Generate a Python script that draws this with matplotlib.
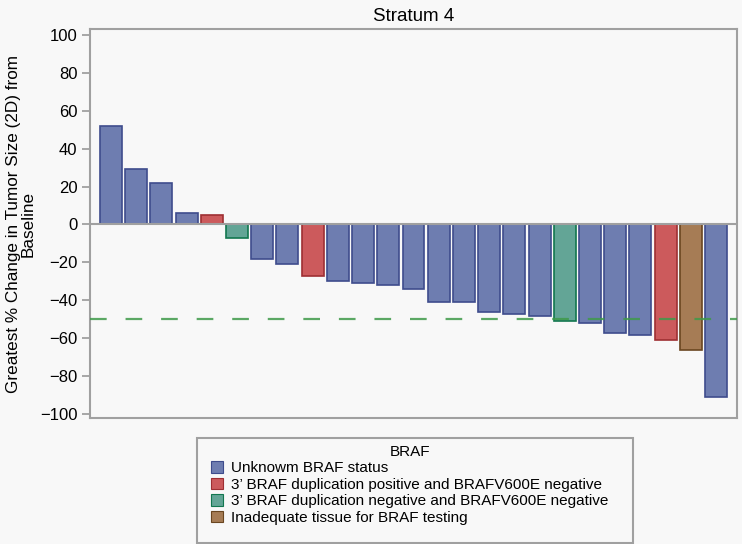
import matplotlib
matplotlib.use("Agg")
import matplotlib.pyplot as plt
from matplotlib.patches import Patch, Rectangle

plt.rcParams["font.family"] = ["Liberation Sans", "DejaVu Sans"]

# ---------- data ----------
pct_change = [52, 29, 22, 6, 5, -7, -18, -21, -27, -30, -31, -32, -34,
              -41, -41, -46, -47, -48, -51, -52, -57, -58, -61, -66, -91]
# 0 unknown, 1 dup positive, 2 dup negative, 3 inadequate tissue
braf_group = [0, 0, 0, 0, 1, 2, 0, 0, 1, 0, 0, 0, 0,
              0, 0, 0, 0, 0, 2, 0, 0, 0, 1, 3, 0]
group_labels = ["Unknowm BRAF status",
                "3\u2019 BRAF duplication positive and BRAFV600E negative",
                "3\u2019 BRAF duplication negative and BRAFV600E negative",
                "Inadequate tissue for BRAF testing"]
yticks = [100, 80, 60, 40, 20, 0, -20, -40, -60, -80, -100]

fill_colors = ["#6e7db0", "#cc5a5c", "#63a596", "#a67c55"]
edge_colors = ["#3e4c8c", "#9e2f33", "#12774f", "#6a4620"]
bg = "#f8f8f8"
frame = "#a0a0a0"

fig = plt.figure(figsize=(7.42, 5.44), dpi=100, facecolor=bg)
ax = fig.add_axes([0.1213, 0.2316, 0.872, 0.715], facecolor=bg)

x = list(range(len(pct_change)))
ax.bar(x, pct_change, width=0.87,
       color=[fill_colors[g] for g in braf_group],
       edgecolor=[edge_colors[g] for g in braf_group],
       linewidth=1.2, zorder=2)

ax.axhline(0, color=frame, linewidth=1.5, zorder=3)
ax.axhline(-50, color="#3f9a4a", linewidth=1.6, linestyle=(0, (7.5, 8.5)),
           alpha=0.85, zorder=4)

ax.set_xlim(-0.83, len(pct_change) - 1 + 0.83)
ax.set_ylim(-102, 103)
ax.set_xticks([])
ax.set_yticks(yticks)
ax.set_yticklabels([str(t).replace("-", "\u2212") for t in yticks])
ax.tick_params(axis="y", direction="out", length=6, width=1.3,
               color=frame, labelsize=12, pad=3)
for s in ax.spines.values():
    s.set_color(frame)
    s.set_linewidth(1.5)

ax.set_title("Stratum 4", fontsize=13.5, pad=6)
ax.set_ylabel("Greatest % Change in Tumor Size (2D) from\nBaseline",
              fontsize=12.3, linespacing=1.0, labelpad=3,
              multialignment="center")

# legend: frameless legend inside a drawn box
fig.patches.append(Rectangle((197 / 742, 1 - 543 / 544), 436 / 742, 105 / 544,
                             transform=fig.transFigure, facecolor="none",
                             edgecolor=frame, linewidth=1.5))
handles = [Patch(facecolor=fill_colors[i], edgecolor=edge_colors[i], linewidth=0.8)
           for i in range(len(group_labels))]
leg = fig.legend(handles, group_labels, title="BRAF", loc="upper left",
                 bbox_to_anchor=(211 / 742, 1 - 445 / 544), frameon=False,
                 fontsize=11, title_fontsize=11, handlelength=0.8,
                 handleheight=0.8, handletextpad=0.5, labelspacing=0.15,
                 borderpad=0, borderaxespad=0)

fig.savefig("out.png", dpi=100, facecolor=bg)
